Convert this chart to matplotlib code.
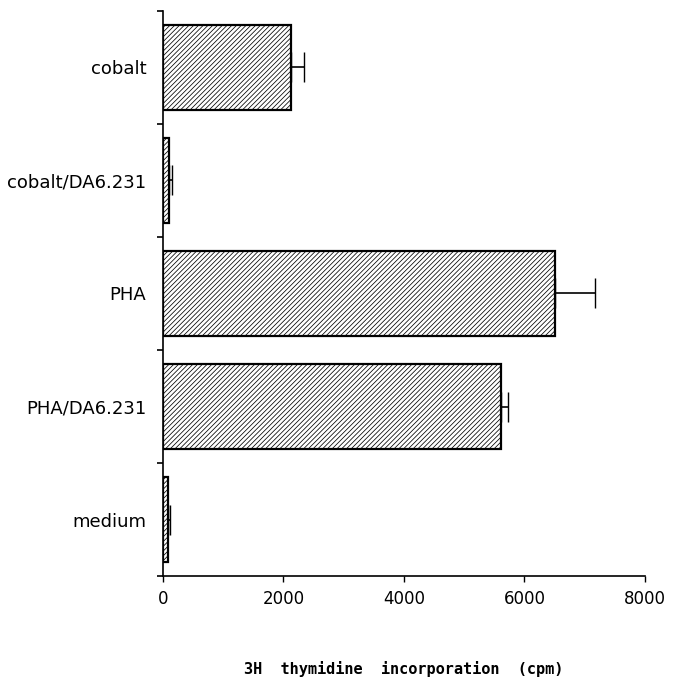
import numpy as np
import matplotlib.pyplot as plt

# categories, top to bottom
categories = ["cobalt", "cobalt/DA6.231", "PHA", "PHA/DA6.231", "medium"]
means = [2125, 100, 6505, 5605, 80]
errors = [215, 50, 665, 120, 40]
xticks = [0, 2000, 4000, 6000, 8000]

plt.rcParams['hatch.linewidth'] = 0.55

fig = plt.figure(figsize=(6.78, 6.82), dpi=100)
ax = fig.add_axes([0.2404, 0.1554, 0.7109, 0.8285])

y = np.arange(len(categories))
ax.barh(y, means, height=0.76, color='white', edgecolor='black',
        linewidth=1.6, hatch='///////', zorder=2)
ax.errorbar(means, y, xerr=[np.zeros(len(errors)), errors], fmt='none',
            ecolor='black', elinewidth=1.2, capsize=11, capthick=1.0, zorder=3)

ax.set_ylim(len(categories) - 0.5, -0.5)
ax.set_xlim(0, 8000)
ax.set_yticks(y)
ax.set_yticklabels(categories, fontsize=13)
ax.tick_params(axis='y', length=0, pad=12)
ax.set_yticks(np.arange(-0.5, len(categories)), minor=True)
ax.tick_params(axis='y', which='minor', length=4, width=1.2, direction='out')

ax.set_xticks(xticks)
ax.set_xticklabels([str(t) for t in xticks], fontsize=12)
ax.tick_params(axis='x', length=4, width=1.0, direction='out', pad=6)

for side in ['top', 'right']:
    ax.spines[side].set_visible(False)
ax.spines['left'].set_linewidth(1.2)
ax.spines['bottom'].set_linewidth(1.2)

ax.set_xlabel("3H  thymidine  incorporation  (cpm)", fontsize=11,
              family='DejaVu Sans Mono', fontweight='bold', labelpad=38)

fig.savefig("out.png", dpi=100)
